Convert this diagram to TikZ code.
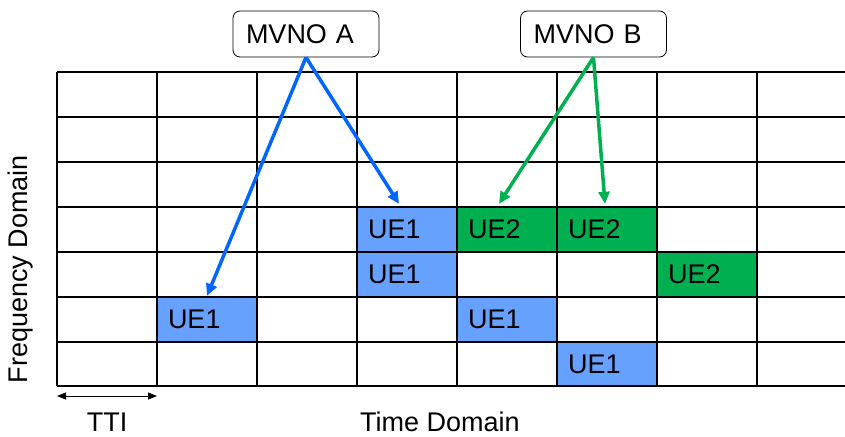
\documentclass[tikz,border=0pt]{standalone}
\usepackage{fontspec}
\setmainfont{Liberation Sans}
\usetikzlibrary{arrows.meta,calc}
\definecolor{ueblue}{HTML}{66A1FF}
\definecolor{uegreen}{HTML}{00B050}
\definecolor{arrblue}{HTML}{0066FF}
\definecolor{arrgreen}{HTML}{00B050}
\tikzset{
  gridline/.style={line width=1.8pt, black},
  uecell/.style={rectangle, minimum width=100pt, minimum height=45pt, text width=78pt, inner xsep=11pt, inner ysep=0pt, align=left, font=\fontsize{27}{30}\selectfont},
  mvno/.style={draw, rounded corners=7pt, line width=0.8pt, minimum width=146pt, minimum height=46pt, text width=120pt, inner xsep=13pt, align=left, font=\fontsize{27}{30}\selectfont},
  linkarrow/.style={line width=3.5pt, -{Triangle[length=12pt,width=11pt]}},
  lbl/.style={font=\fontsize{27}{30}\selectfont, inner sep=0pt}
}
\begin{document}
\begin{tikzpicture}[x=1pt,y=-1pt]
\useasboundingbox (0,0) rectangle (845,436);
\fill[white] (0,0) rectangle (845,436);
% cells
\node[uecell, fill=ueblue] (c1) at (207,319.5) {UE1};
\node[uecell, fill=ueblue] (c2) at (407,229.5) {UE1};
\node[uecell, fill=ueblue] (c3) at (407,274.5) {UE1};
\node[uecell, fill=ueblue] (c4) at (507,319.5) {UE1};
\node[uecell, fill=ueblue] (c5) at (607,364) {UE1};
\node[uecell, fill=uegreen] (g1) at (507,229.5) {UE2};
\node[uecell, fill=uegreen] (g2) at (607,229.5) {UE2};
\node[uecell, fill=uegreen] (g3) at (707,274.5) {UE2};
% grid
\foreach \y in {72,117,162,207,252,297,342,386} \draw[gridline] (57,\y) -- (845,\y);
\foreach \x in {57,157,257,357,457,557,657,757} \draw[gridline] (\x,72) -- (\x,386);
% MVNO boxes
\node[mvno] (ma) at (306,34) {MVNO A};
\node[mvno] (mb) at (593.5,34) {MVNO B};
\coordinate (ta) at ($(c2.north)+(-8,-3)$);
\coordinate (tb) at ($(g1.north)+(-8,-3)$);
\draw[linkarrow, arrblue] (ma.south) -- ($(c1.north)+(0,-1)$);
\draw[linkarrow, arrblue] (ma.south) -- (ta);
\draw[linkarrow, arrgreen] (mb.south) -- (tb);
\draw[linkarrow, arrgreen] (mb.south) -- ($(g2.north)+(-2,-3)$);
% axes labels
\coordinate (t0) at (57,396);
\coordinate (t1) at (157,396);
\draw[line width=0.9pt, {Triangle[length=9pt,width=7pt]}-{Triangle[length=9pt,width=7pt]}] (t0) -- (t1);
\node[lbl] (tti) at (107,422) {TTI};
\node[lbl] (td) at (440,422) {Time Domain};
\node[lbl, rotate=90] (fd) at (21,269) {Frequency Domain};
\end{tikzpicture}
\end{document}
